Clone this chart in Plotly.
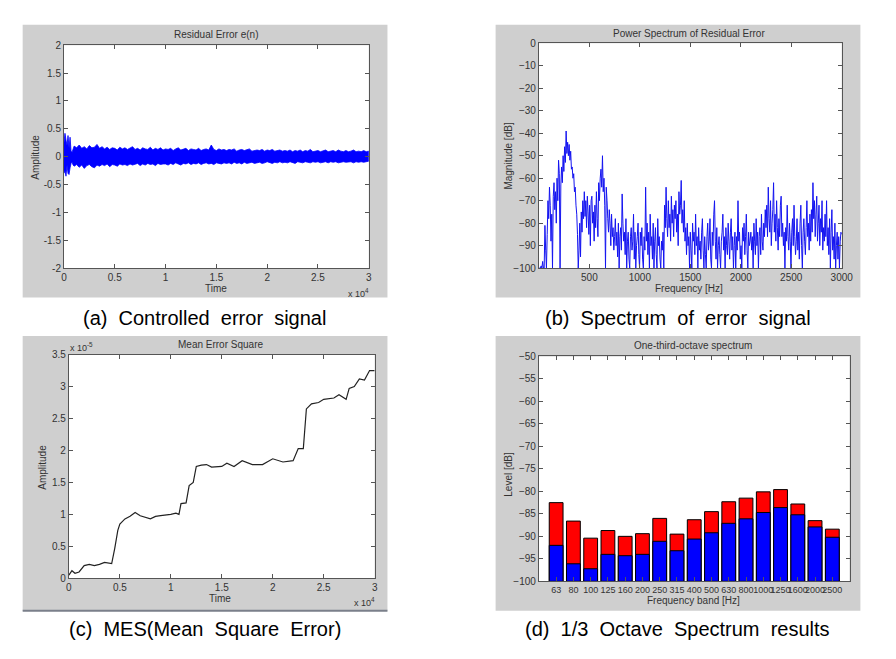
import plotly.graph_objects as go

W, H = 896, 659

# ---------------- (a) residual error envelope ----------------
err_t_early = [0, 100, 200, 300, 400, 500, 600, 700, 800, 900]
err_up_early = [0.25, 0.42, 0.30, 0.20, 0.38, 0.15, 0.35, 0.10, 0.08, 0.15]
err_lo_early = [-0.30, -0.25, -0.35, -0.15, -0.30, -0.32, -0.20, -0.12, -0.10, -0.15]
err_t_main = list(range(1000, 30001, 250))
err_up_main = [
    0.19, 0.16, 0.21, 0.15, 0.18, 0.14, 0.20, 0.16, 0.17, 0.22, 0.15, 0.18,
    0.14, 0.17, 0.13, 0.16, 0.15, 0.12, 0.17, 0.14, 0.16, 0.13, 0.15, 0.18,
    0.13, 0.15, 0.12, 0.16, 0.14, 0.13, 0.17, 0.12, 0.15, 0.13, 0.16, 0.12,
    0.14, 0.13, 0.15, 0.11, 0.14, 0.16, 0.12, 0.13, 0.15, 0.11, 0.14, 0.13,
    0.12, 0.15, 0.11, 0.13, 0.14, 0.12, 0.21, 0.13, 0.11, 0.14, 0.12, 0.13,
    0.11, 0.13, 0.12, 0.14, 0.10, 0.12, 0.13, 0.11, 0.12, 0.14, 0.10, 0.11,
    0.12, 0.11, 0.13, 0.10, 0.12, 0.11, 0.13, 0.10, 0.11, 0.12, 0.10, 0.11,
    0.10, 0.12, 0.09, 0.11, 0.10, 0.12, 0.09, 0.11, 0.10, 0.13, 0.09, 0.10,
    0.11, 0.09, 0.10, 0.12, 0.09, 0.10, 0.11, 0.09, 0.12, 0.10, 0.09, 0.11,
    0.09, 0.10, 0.12, 0.09, 0.10, 0.09, 0.11, 0.09, 0.10]
err_lo_main = [
    -0.17, -0.14, -0.19, -0.15, -0.21, -0.16, -0.14, -0.18, -0.20, -0.15, -0.17, -0.14,
    -0.16, -0.13, -0.18, -0.14, -0.15, -0.17, -0.13, -0.15, -0.14, -0.16, -0.13, -0.15,
    -0.14, -0.12, -0.16, -0.13, -0.15, -0.12, -0.14, -0.13, -0.16, -0.12, -0.14, -0.13,
    -0.13, -0.15, -0.12, -0.14, -0.11, -0.13, -0.15, -0.12, -0.13, -0.11, -0.14, -0.12,
    -0.13, -0.11, -0.14, -0.12, -0.11, -0.13, -0.12, -0.14, -0.11, -0.12, -0.13, -0.11,
    -0.12, -0.11, -0.13, -0.10, -0.12, -0.11, -0.13, -0.10, -0.12, -0.11, -0.10, -0.12,
    -0.11, -0.10, -0.12, -0.11, -0.09, -0.11, -0.12, -0.10, -0.11, -0.09, -0.11, -0.10,
    -0.11, -0.09, -0.10, -0.12, -0.09, -0.10, -0.11, -0.09, -0.10, -0.11, -0.09, -0.10,
    -0.09, -0.11, -0.10, -0.09, -0.11, -0.09, -0.10, -0.09, -0.11, -0.10, -0.09, -0.10,
    -0.10, -0.09, -0.11, -0.09, -0.10, -0.09, -0.10, -0.09, -0.08]

# ---------------- (b) power spectrum (7.5 Hz bins) ----------------
spec_db = [
    -100, -100, -100, -99, -100, -97, -100, -100, -81, -92, -100, -85, -70, -78, -64, -72, -88, -76, -100, -68,
    -62, -74, -66, -80, -60, -70, -52, -58, -100, -63, -55, -62, -50, -57, -46, -53, -39, -49, -44, -50,
    -45, -52, -48, -56, -55, -60, -58, -66, -64, -72, -76, -85, -100, -92, -80, -95, -75, -84, -70, -78,
    -66, -77, -70, -82, -68, -75, -85, -72, -90, -70, -68, -80, -75, -88, -72, -82, -66, -78, -86, -62,
    -70, -60, -56, -64, -50, -66, -60, -72, -100, -64, -70, -78, -84, -74, -80, -90, -76, -86, -82, -92,
    -86, -78, -90, -84, -95, -80, -100, -86, -82, -92, -67, -80, -88, -84, -94, -78, -100, -88, -84, -96,
    -100, -86, -82, -92, -88, -76, -96, -84, -100, -90, -86, -80, -94, -100, -84, -90, -82, -96, -100, -86,
    -92, -64, -88, -80, -94, -84, -100, -76, -90, -86, -96, -80, -100, -88, -82, -94, -100, -78, -90, -86,
    -96, -100, -88, -92, -84, -100, -72, -82, -64, -78, -86, -70, -82, -76, -88, -68, -80, -74, -86, -72,
    -78, -70, -84, -76, -90, -66, -76, -72, -61, -80, -74, -84, -70, -88, -82, -94, -80, -90, -86, -100,
    -84, -92, -100, -80, -88, -84, -94, -76, -90, -86, -100, -82, -92, -88, -96, -84, -78, -92, -100, -86,
    -94, -100, -86, -80, -92, -88, -78, -96, -100, -84, -90, -76, -70, -88, -96, -82, -100, -90, -86, -94,
    -100, -88, -84, -76, -92, -86, -100, -82, -90, -94, -80, -88, -96, -84, -78, -92, -86, -100, -90, -84,
    -100, -86, -92, -70, -88, -84, -96, -90, -100, -82, -88, -80, -94, -86, -76, -92, -100, -84, -90, -88,
    -84, -92, -86, -100, -80, -88, -94, -78, -90, -84, -100, -86, -82, -94, -76, -88, -92, -80, -86, -74,
    -82, -72, -86, -64, -78, -84, -70, -90, -80, -74, -62, -84, -76, -88, -70, -82, -92, -78, -86, -72,
    -68, -86, -80, -90, -84, -100, -82, -88, -72, -86, -92, -80, -88, -100, -84, -78, -90, -72, -86, -94,
    -88, -78, -92, -84, -96, -80, -72, -90, -100, -84, -78, -88, -94, -82, -70, -86, -80, -92, -76, -88,
    -74, -84, -62, -78, -70, -86, -76, -68, -88, -80, -72, -90, -78, -84, -70, -92, -82, -88, -76, -86,
    -70, -90, -82, -94, -78, -100, -84, -74, -92, -86, -96, -80, -100, -90, -84, -96, -86, -100, -88, -84,
    -85]
spec_f = [7.5 * i for i in range(len(spec_db))]

# ---------------- (c) mean error square (x 1e-5) ----------------
mse_t = [0, 300, 600, 1000, 1500, 2000, 2500, 3000, 3500, 4200, 4500, 4800, 5000,
         5500, 6000, 6500, 7000, 8000, 8500, 9000, 10000, 10500, 10800, 11000,
         11500, 11800, 12200, 12500, 13000, 13500, 14000, 15000, 15500, 16200,
         17000, 18000, 19000, 20000, 21000, 22000, 22500, 23000, 23300, 23800,
         24500, 25000, 26000, 26500, 27200, 27500, 28000, 28500, 29000, 29500, 30000]
mse_e5 = [0.05, 0.12, 0.08, 0.10, 0.20, 0.22, 0.20, 0.22, 0.25, 0.23, 0.47, 0.75, 0.85,
          0.93, 0.97, 1.03, 0.98, 0.93, 0.97, 0.98, 1.00, 1.02, 1.00, 1.17,
          1.18, 1.45, 1.50, 1.75, 1.77, 1.78, 1.74, 1.75, 1.80, 1.75,
          1.84, 1.78, 1.78, 1.87, 1.82, 1.84, 2.03, 2.03, 2.65, 2.73,
          2.75, 2.80, 2.82, 2.87, 2.80, 2.97, 3.00, 3.12, 3.10, 3.25, 3.25]

# ---------------- (d) one-third-octave spectrum ----------------
bands = ["63", "80", "100", "125", "160", "200", "250", "315", "400", "500",
         "630", "800", "1000", "1250", "1600", "2000", "2500"]
level_total = [-82.5, -86.6, -90.4, -88.7, -90.0, -89.4, -86.0, -89.5, -86.3, -84.5,
               -82.3, -81.5, -80.1, -79.6, -82.8, -86.5, -88.4]
level_ctrl = [-92.0, -96.1, -97.2, -94.0, -94.3, -94.0, -91.1, -93.2, -90.6, -89.2,
              -87.1, -86.1, -84.7, -83.6, -85.2, -87.9, -90.2]
BASE = -100

FONT = "Liberation Sans, Arial, sans-serif"
TXT = "#333333"


def px(x):
    return x / W


def py(y):
    return 1 - y / H


fig = go.Figure()

# (a)
xa = err_t_early + err_t_main
ua = err_up_early + err_up_main
la = err_lo_early + err_lo_main
fig.add_trace(go.Scatter(x=xa + xa[::-1], y=ua + la[::-1], fill="toself",
                         fillcolor="#0000ff", line=dict(color="#0000ff", width=0.8),
                         mode="lines", xaxis="x", yaxis="y", showlegend=False))
# (b)
fig.add_trace(go.Scatter(x=spec_f, y=spec_db, mode="lines",
                         line=dict(color="#1414f0", width=1, simplify=False),
                         xaxis="x2", yaxis="y2", showlegend=False))
# (c)
fig.add_trace(go.Scatter(x=mse_t, y=mse_e5, mode="lines",
                         line=dict(color="#222222", width=1.2, simplify=False),
                         xaxis="x3", yaxis="y3", showlegend=False))
# (d)
idx = list(range(1, len(bands) + 1))
fig.add_trace(go.Bar(x=idx, y=[v - BASE for v in level_total], base=BASE, width=0.8,
                     marker=dict(color="#ff0000", line=dict(color="black", width=1)),
                     xaxis="x4", yaxis="y4", showlegend=False))
fig.add_trace(go.Bar(x=idx, y=[v - BASE for v in level_ctrl], base=BASE, width=0.8,
                     marker=dict(color="#0000ff", line=dict(color="black", width=1)),
                     xaxis="x4", yaxis="y4", showlegend=False))

axis_common = dict(showline=True, linecolor="#555555", linewidth=1, mirror="allticks",
                   ticks="inside", ticklen=4, tickcolor="#555555", showgrid=False,
                   zeroline=False)
tf = dict(family=FONT, size=10, color=TXT)


def dom(a, b, total):
    return [a / total, b / total]


fig.update_layout(
    width=W, height=H, margin=dict(l=0, r=0, t=0, b=0),
    paper_bgcolor="white", plot_bgcolor="white", barmode="overlay",
    xaxis=dict(domain=dom(62, 372, W), range=[0, 30000],
               tickvals=[0, 5000, 10000, 15000, 20000, 25000, 30000],
               ticktext=["0", "0.5", "1", "1.5", "2", "2.5", "3"],
               anchor="y", tickfont=tf, **axis_common),
    yaxis=dict(domain=[py(267), py(40)], range=[-2, 2],
               tickvals=[-2, -1.5, -1, -0.5, 0, 0.5, 1, 1.5, 2],
               ticktext=["-2", "-1.5", "-1", "-0.5", "0", "0.5", "1", "1.5", "2"],
               anchor="x", tickfont=tf, **axis_common),
    xaxis2=dict(domain=dom(545, 853, W), range=[0, 3000],
                tickvals=[500, 1000, 1500, 2000, 2500, 3000],
                anchor="y2", tickfont=tf, **axis_common),
    yaxis2=dict(domain=[py(267), py(38)], range=[-100, 0], dtick=10,
                anchor="x2", tickfont=tf, **axis_common),
    xaxis3=dict(domain=dom(67, 378, W), range=[0, 30000],
                tickvals=[0, 5000, 10000, 15000, 20000, 25000, 30000],
                ticktext=["0", "0.5", "1", "1.5", "2", "2.5", "3"],
                anchor="y3", tickfont=tf, **axis_common),
    yaxis3=dict(domain=[py(583), py(355)], range=[0, 3.5], dtick=0.5,
                anchor="x3", tickfont=tf, **axis_common),
    xaxis4=dict(domain=dom(545, 861, W), range=[0, 18],
                tickvals=idx, ticktext=bands, tickangle=0,
                anchor="y4", tickfont=dict(family=FONT, size=9, color=TXT),
                **axis_common),
    yaxis4=dict(domain=[py(586), py(357)], range=[-100, -50], dtick=5,
                anchor="x4", tickfont=tf, **axis_common),
)

# gray figure backgrounds, then white axes areas
shapes = []
for (x0, y0, x1, y1) in [(20, 19, 391, 297), (501, 19, 872, 297),
                         (20, 336, 391, 616), (501, 336, 872, 616)]:
    shapes.append(dict(type="rect", xref="paper", yref="paper",
                       x0=px(x0), x1=px(x1), y0=py(y1), y1=py(y0),
                       fillcolor="#cfcfcf", line=dict(width=0), layer="below"))
for ax in ["", "2", "3", "4"]:
    shapes.append(dict(type="rect", xref="x%s domain" % ax, yref="y%s domain" % ax,
                       x0=0, x1=1, y0=0, y1=1, fillcolor="white",
                       line=dict(width=0), layer="below"))
# dark lower edge of the lower-left figure window
shapes.append(dict(type="line", xref="paper", yref="paper", x0=px(20), x1=px(391),
                   y0=py(616), y1=py(616), line=dict(color="#7a7f8a", width=2)))
fig.update_layout(shapes=shapes)


def ann(text, x, y, size=10, angle=0, color=TXT, family=FONT):
    fig.add_annotation(text=text, x=px(x), y=py(y), xref="paper", yref="paper",
                       showarrow=False, textangle=angle, xanchor="center", yanchor="middle",
                       font=dict(family=family, size=size, color=color))


# titles
ann("Residual Error e(n)", 217, 29)
ann("Power Spectrum of Residual Error", 698, 28)
ann("Mean Error Square", 221, 345)
ann("One-third-octave spectrum", 702, 346)
# axis labels
ann("Time", 217, 288)
ann("Amplitude", 33, 154, angle=-90)
ann("x 10<sup>4</sup>", 362, 292, size=9)
ann("Frequency [Hz]", 698, 288)
ann("Magnitude [dB]", 514, 153, angle=-90)
ann("Time", 221, 603)
ann("Amplitude", 40, 470, angle=-90)
ann("x 10<sup>4</sup>", 368, 607, size=9)
ann("x 10<sup>-5</sup>", 80, 347, size=9)
ann("Frequency band [Hz]", 702, 606)
ann("Level [dB]", 514, 477, angle=-90)
# captions
NB = "\u00a0"
cap = 20
ann("(a)" + NB * 2 + "Controlled" + NB * 2 + "error" + NB * 2 + "signal", 205, 318, size=cap, color="black")
ann("(b)" + NB * 2 + "Spectrum" + NB * 2 + "of" + NB * 2 + "error" + NB * 2 + "signal", 686, 318, size=cap, color="black")
ann("(c)" + NB * 2 + "MES(Mean" + NB * 2 + "Square" + NB * 2 + "Error)", 205, 635, size=cap, color="black")
ann("(d)" + NB * 2 + "1/3" + NB * 2 + "Octave" + NB * 2 + "Spectrum" + NB * 2 + "results", 686, 635, size=cap, color="black")

fig.write_html("out.html")
